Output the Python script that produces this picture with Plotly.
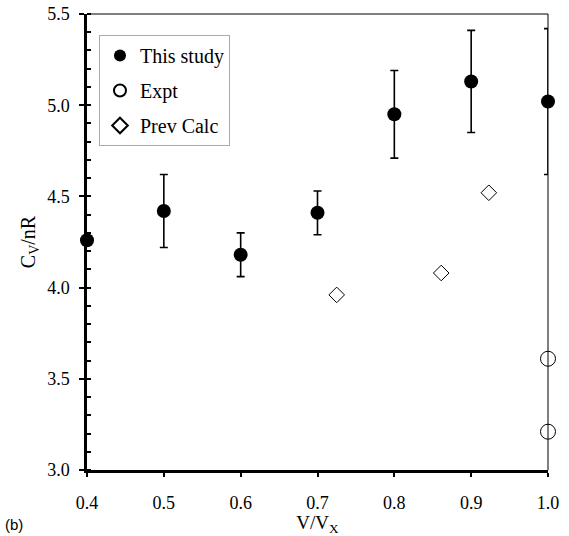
import plotly.graph_objects as go

# Data
study_x = [0.4, 0.5, 0.6, 0.7, 0.8, 0.9, 1.0]
study_y = [4.26, 4.42, 4.18, 4.41, 4.95, 5.13, 5.02]
study_err = [0.0, 0.20, 0.12, 0.12, 0.24, 0.28, 0.40]

expt_x = [1.0, 1.0]
expt_y = [3.61, 3.21]

prev_x = [0.725, 0.861, 0.923]
prev_y = [3.96, 4.08, 4.52]

serif = "Liberation Serif, Times New Roman, serif"

fig = go.Figure()

fig.add_trace(go.Scatter(
    x=study_x, y=study_y, mode="markers", name="This study", legendgroup="a",
    marker=dict(symbol="circle", size=14, color="black"),
    error_y=dict(type="data", array=study_err, visible=True,
                 color="black", thickness=1.6, width=4),
    cliponaxis=False,
))
fig.add_trace(go.Scatter(
    x=expt_x, y=expt_y, mode="markers", name="Expt", legendgroup="b",
    marker=dict(symbol="circle", size=15, color="white",
                line=dict(color="black", width=1)),
    cliponaxis=False,
))
fig.add_trace(go.Scatter(
    x=prev_x, y=prev_y, mode="markers", name="Prev Calc", legendgroup="c",
    marker=dict(symbol="diamond", size=12, color="white",
                line=dict(color="black", width=1)),
    cliponaxis=False,
))

# thin top/right frame
fig.add_shape(type="line", xref="paper", yref="paper", x0=0, x1=1, y0=1, y1=1,
              line=dict(color="black", width=1))
fig.add_shape(type="line", xref="paper", yref="paper", x0=1, x1=1, y0=0, y1=1,
              line=dict(color="black", width=1))

fig.add_annotation(text="(b)", xref="paper", yref="paper", x=-0.183, y=-0.097,
                   xanchor="left", yanchor="top", showarrow=False,
                   font=dict(family="Liberation Sans, Arial, sans-serif", size=15, color="black"))

fig.update_layout(
    width=569, height=536,
    margin=dict(l=87, r=21, t=14, b=66),
    plot_bgcolor="white", paper_bgcolor="white",
    font=dict(family=serif, size=18, color="black"),
    showlegend=True,
    legend=dict(x=0.026, y=0.954, xanchor="left", yanchor="top",
                bgcolor="white", bordercolor="#aaaaaa", borderwidth=1,
                font=dict(family=serif, size=20, color="black"),
                itemsizing="constant", tracegroupgap=6,
                entrywidth=115, entrywidthmode="pixels"),
    xaxis=dict(
        range=[0.4, 1.0], dtick=0.1, tick0=0.4, tickformat=".1f",
        showgrid=False, zeroline=False, automargin=False,
        showline=True, linecolor="black", linewidth=2.5,
        ticks="outside", ticklen=4, tickwidth=2, tickcolor="black",
        ticklabelstandoff=11,
        title=dict(text="V/V<sub>X</sub>", font=dict(family=serif, size=19), standoff=2),
        tickfont=dict(family=serif, size=18),
    ),
    yaxis=dict(
        range=[3.0, 5.5], dtick=0.5, tick0=3.0, tickformat=".1f",
        showgrid=False, zeroline=False, automargin=False,
        showline=True, linecolor="black", linewidth=2.5,
        ticks="outside", ticklen=5, tickwidth=2, tickcolor="black",
        ticklabelstandoff=6,
        minor=dict(ticks="inside", dtick=0.1, ticklen=4, tickwidth=2, tickcolor="black"),
        title=dict(text="C<sub>V</sub>/nR", font=dict(family=serif, size=20), standoff=7),
        tickfont=dict(family=serif, size=18),
    ),
)

fig.write_html("out.html")
